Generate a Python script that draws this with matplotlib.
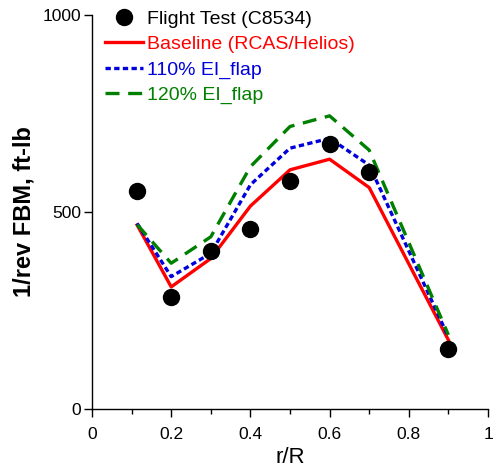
import matplotlib
matplotlib.use("Agg")
import matplotlib.pyplot as plt
from matplotlib.ticker import MultipleLocator

plt.rcParams['font.family'] = ['Liberation Sans', 'DejaVu Sans']

r_test = [0.114, 0.20, 0.30, 0.40, 0.50, 0.60, 0.70, 0.90]
fbm_test = [553, 285, 401, 456, 579, 672, 602, 152]

r_calc = [0.114, 0.20, 0.30, 0.40, 0.50, 0.60, 0.70, 0.90]
fbm_baseline = [467, 310, 382, 515, 607, 634, 562, 175]
fbm_110 = [471, 336, 395, 569, 662, 687, 619, 183]
fbm_120 = [468, 370, 437, 615, 717, 744, 657, 188]

xticks = [0, 0.2, 0.4, 0.6, 0.8, 1]
yticks = [0, 500, 1000]

fig = plt.figure(figsize=(4.94, 4.70), dpi=100)
ax = fig.add_axes([92/494, 61/470, 396/494, 394/470])

ax.plot(r_test, fbm_test, 'o', color='black', markersize=11.5, zorder=5,
        label='Flight Test (C8534)')
ax.plot(r_calc, fbm_baseline, '-', color='#ff0000', lw=2.4,
        label='Baseline (RCAS/Helios)')
ax.plot(r_calc, fbm_110, color='#0000dd', lw=2.4, dashes=(1.6, 1.0),
        label='110% EI_flap')
ax.plot(r_calc, fbm_120, color='#008000', lw=2.4, dashes=(4.2, 2.6),
        label='120% EI_flap')

ax.set_xlim(0, 1)
ax.set_ylim(0, 1000)
ax.set_xticks(xticks)
ax.set_xticklabels([f'{t:g}' for t in xticks])
ax.xaxis.set_minor_locator(MultipleLocator(0.1))
ax.set_yticks(yticks)

for s in ('top', 'right'):
    ax.spines[s].set_visible(False)
for s in ('left', 'bottom'):
    ax.spines[s].set_linewidth(1.0)

ax.tick_params(axis='both', which='major', direction='out', length=6,
               width=1.0, labelsize=12.5, color='black')
ax.tick_params(axis='x', which='major', pad=7)
ax.tick_params(axis='y', which='major', pad=2)
ax.tick_params(axis='x', which='minor', direction='out', length=3.5, width=1.0)

ax.set_xlabel('r/R', fontsize=16, labelpad=3.5)
ax.set_ylabel('1/rev FBM, ft-lb', fontsize=17, fontweight='bold', labelpad=5)

leg = ax.legend(loc='upper left', bbox_to_anchor=(0.012, 1.032), frameon=False,
                fontsize=14, handlelength=2.0, handletextpad=0.2,
                labelspacing=0.40, borderaxespad=0.0)
for text, col in zip(leg.get_texts(), ['black', '#ff0000', '#0000dd', '#008000']):
    text.set_color(col)

fig.savefig('out.png', dpi=100)
